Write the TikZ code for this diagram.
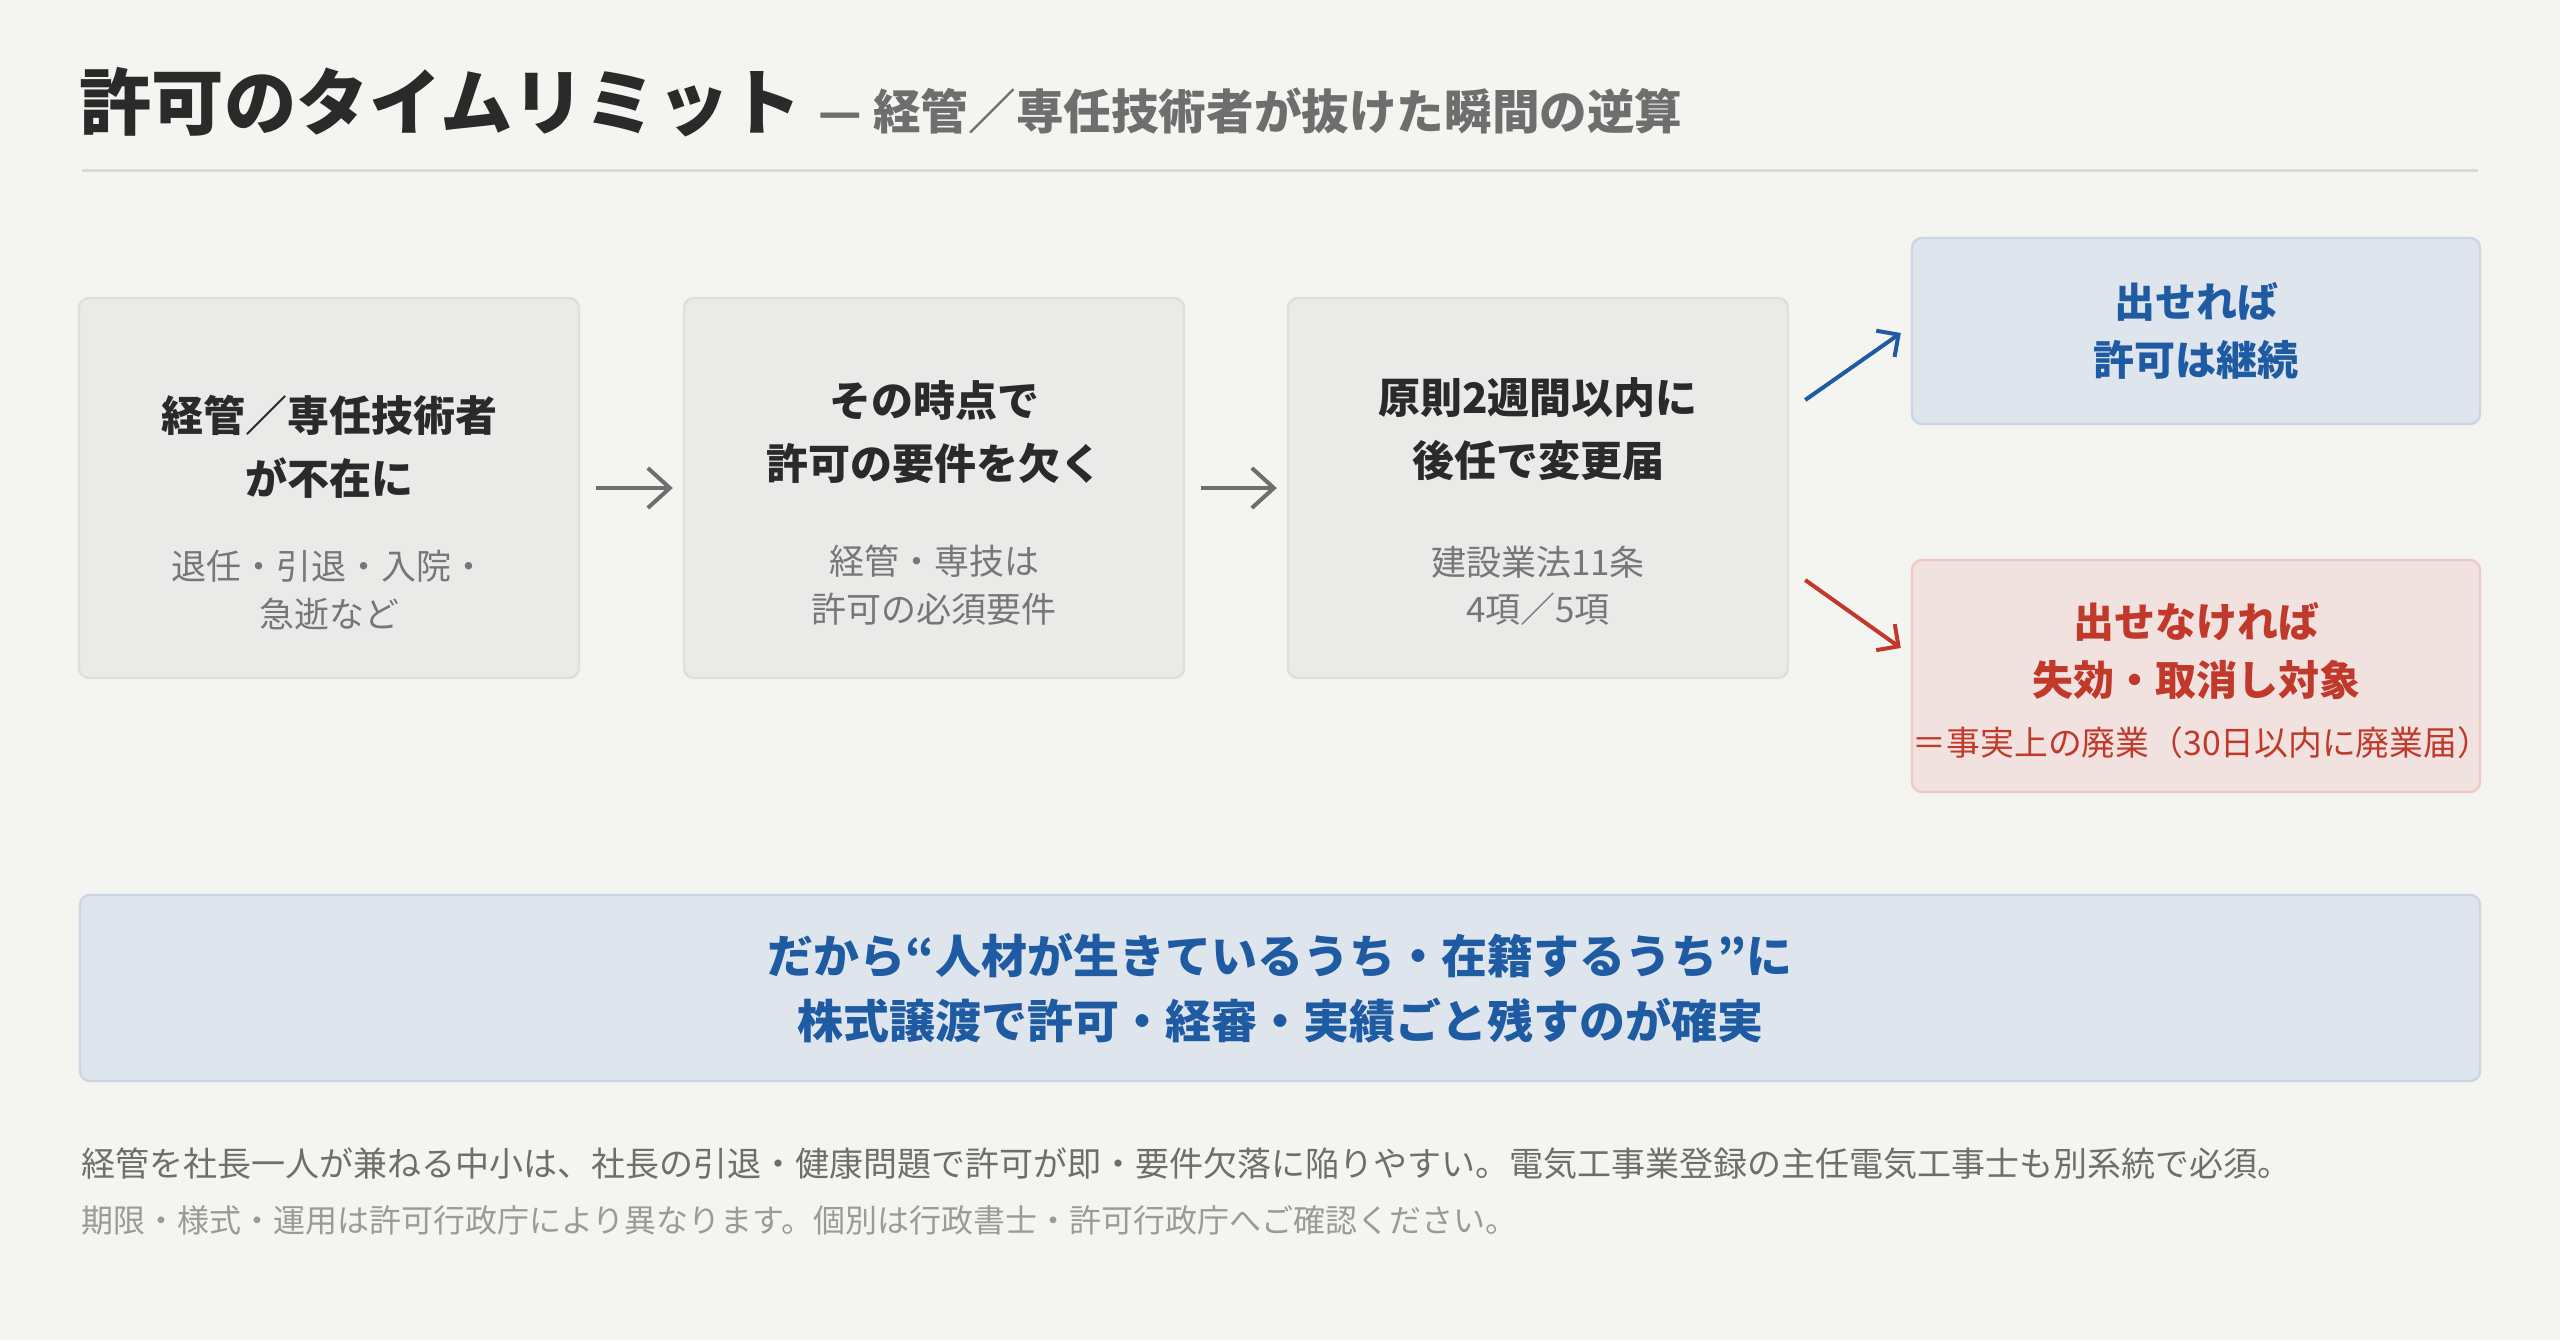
\documentclass[tikz,border=0pt]{standalone}
\usepackage{fontspec}
\setmainfont{Noto Sans CJK JP}
\usetikzlibrary{arrows.meta,positioning}
\definecolor{PaperBg}{HTML}{F4F4F0}
\definecolor{InkDark}{HTML}{2A2A2A}
\definecolor{InkMid}{HTML}{6E6E6E}
\definecolor{InkSub}{HTML}{777777}
\definecolor{InkSoft}{HTML}{9A9A9A}
\definecolor{RuleGray}{HTML}{DADAD6}
\definecolor{StageFill}{HTML}{EAEAE8}
\definecolor{StageLine}{HTML}{DEDEDB}
\definecolor{OkBlue}{HTML}{1F5BA3}
\definecolor{OkFill}{HTML}{DFE5EC}
\definecolor{OkLine}{HTML}{C8D6E6}
\definecolor{NgRed}{HTML}{C0392B}
\definecolor{NgFill}{HTML}{F1E2DF}
\definecolor{NgLine}{HTML}{EFC9C4}
\tikzset{
  stagebox/.style={draw=StageLine,fill=StageFill,rounded corners=5pt,
    line width=1.2pt,minimum width=250pt,minimum height=190pt},
  okbox/.style={draw=OkLine,fill=OkFill,rounded corners=5pt,
    line width=1.2pt,minimum width=284pt,minimum height=93pt},
  ngbox/.style={draw=NgLine,fill=NgFill,rounded corners=5pt,
    line width=1.2pt,minimum width=284pt,minimum height=116pt},
  keybox/.style={draw=OkLine,fill=OkFill,rounded corners=5pt,
    line width=1.2pt,minimum width=1200pt,minimum height=93pt},
  headtext/.style={inner sep=0pt,align=center,text=InkDark,
    font=\fontsize{21pt}{31.5pt}\selectfont\bfseries},
  subtext/.style={inner sep=0pt,align=center,text=InkSub,
    font=\fontsize{17.5pt}{23.7pt}\selectfont},
  oktext/.style={inner sep=0pt,align=center,text=OkBlue,
    font=\fontsize{20.5pt}{29.4pt}\selectfont\bfseries},
  ngtext/.style={inner sep=0pt,align=center,text=NgRed,
    font=\fontsize{20.5pt}{29.4pt}\selectfont\bfseries},
  ngnote/.style={inner sep=0pt,align=center,text=NgRed,
    font=\fontsize{16.9pt}{20pt}\selectfont},
  keytext/.style={inner sep=0pt,align=center,text=OkBlue,
    font=\fontsize{23pt}{32.7pt}\selectfont\bfseries},
  flowarrow/.style={-{Straight Barb[length=11pt,width=20pt]},line width=2pt,InkMid,
    shorten <=8pt,shorten >=5pt},
  okarrow/.style={-{Straight Barb[length=8pt,width=16pt]},line width=2pt,OkBlue},
  ngarrow/.style={-{Straight Barb[length=8pt,width=16pt]},line width=2pt,NgRed}
}

\begin{document}
\begin{tikzpicture}[x=0.5pt,y=-0.5pt]
  \fill[PaperBg] (0,0) rectangle (2560,1340);

  \node[inner sep=0pt,anchor=base west,text=InkDark,
    font=\fontsize{36.2pt}{40pt}\selectfont\bfseries] (title) at (79,129)
    {許可のタイムリミット};
  \node[inner sep=0pt,anchor=base west,text=InkMid,
    font=\fontsize{23.8pt}{28pt}\selectfont\bfseries] (subtitle)
    at ([xshift=8pt]title.base east) {— 経管／専任技術者が抜けた瞬間の逆算};
  \coordinate (ruleL) at (82,170);
  \coordinate (ruleR) at (2478,170);
  \draw[RuleGray,line width=1.5pt] (ruleL) -- (ruleR);

  \node[stagebox] (absent) at (329,488) {};
  \node[stagebox] (lack) at (934,488) {};
  \node[stagebox] (notice) at (1538,488) {};
  \node[okbox] (keep) at (2196,331) {};
  \node[ngbox] (lapse) at (2196,676) {};

  \node[headtext] (absentHead) at ([yshift=20.5pt]absent.center)
    {経管／専任技術者\\が不在に};
  \node[subtext] (absentSub) at ([yshift=-51pt]absent.center)
    {退任・引退・入院・\\急逝など};
  \node[headtext] (lackHead) at ([yshift=28pt]lack.center)
    {その時点で\\許可の要件を欠く};
  \node[subtext] (lackSub) at ([yshift=-48.5pt]lack.center)
    {経管・専技は\\許可の必須要件};
  \node[headtext] (noticeHead) at ([yshift=29.5pt]notice.center)
    {原則2週間以内に\\後任で変更届};
  \node[subtext] (noticeSub) at ([yshift=-49pt]notice.center)
    {建設業法11条\\4項／5項};
  \node[oktext] (keepText) at (keep.center) {出せれば\\許可は継続};
  \node[ngtext] (lapseText) at ([yshift=12.5pt]lapse.center)
    {出せなければ\\失効・取消し対象};
  \node[ngnote] (lapseNote) at ([xshift=3pt,yshift=-33.5pt]lapse.center)
    {＝事実上の廃業（30日以内に廃業届）};

  \draw[flowarrow] (absent) -- (lack);
  \draw[flowarrow] (lack) -- (notice);
  \draw[okarrow] ([xshift=8pt,yshift=44pt]notice.east)
    -- ([xshift=-5pt,yshift=-1pt]keep.west);
  \draw[ngarrow] ([xshift=8pt,yshift=-46pt]notice.east)
    -- ([xshift=-5pt,yshift=14pt]lapse.west);

  \node[keybox] (lesson) at (1280,988) {};
  \node[keytext] (lessonText) at (lesson.center)
    {だから“人材が生きているうち・在籍するうち”に\\株式譲渡で許可・経審・実績ごと残すのが確実};

  \node[inner sep=0pt,anchor=west,text=InkMid,
    font=\fontsize{17pt}{20pt}\selectfont] (note) at (81,1164)
    {経管を社長一人が兼ねる中小は、社長の引退・健康問題で許可が即・要件欠落に陥りやすい。電気工事業登録の主任電気工事士も別系統で必須。};
  \node[inner sep=0pt,anchor=west,text=InkSoft,
    font=\fontsize{16pt}{18pt}\selectfont] (caveat) at (81,1220)
    {期限・様式・運用は許可行政庁により異なります。個別は行政書士・許可行政庁へご確認ください。};
\end{tikzpicture}
\end{document}
